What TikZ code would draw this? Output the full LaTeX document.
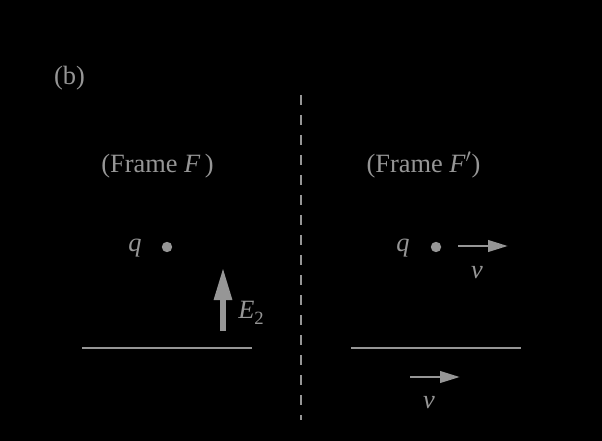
\documentclass[tikz,border=0pt]{standalone}
\usepackage{fontspec}
\setmainfont{Liberation Serif}
\usetikzlibrary{arrows.meta}
\definecolor{fg}{RGB}{150,150,150}
\begin{document}
\begin{tikzpicture}[x=0.75pt,y=-0.75pt,
  lbl/.style={text=fg,font=\fontsize{19.8pt}{21pt}\selectfont,inner sep=0pt,anchor=base},
  plate/.style={draw=fg,line width=2.2pt},
  vec/.style={draw=fg,line width=2.2pt,-{Triangle[length=15pt,width=8.5pt]}},
  bigvec/.style={draw=fg,line width=3.8pt,-{Triangle[length=24pt,width=13pt]}},
  dot/.style={circle,fill=fg,inner sep=0pt,minimum size=7.8pt}]
\fill[black] (0,0) rectangle (602,441);
\useasboundingbox (0,0) rectangle (602,441);
% dashed divider
\coordinate (dtop) at (301,95);
\coordinate (dbot) at (301,420);
\draw[fg,line width=1.6pt,dash pattern=on 7.5pt off 7.5pt] (dtop) -- (dbot);
% labels
\node[lbl] (b) at (69.5,85) {(b)};
\node[lbl] (fF) at (157.5,173) {(Frame \textit{F}\,)};
\node[lbl] (fFp) at (423.5,173) {(Frame \textit{F}$'$)};
% left frame
\coordinate (pl1) at (82,348);
\coordinate (pl2) at (252,348);
\draw[plate] (pl1) -- (pl2);
\node[dot] (q1) at (167,247) {};
\node[lbl] (q1l) at (135,252) {\textit{q}};
\coordinate (e1) at (223,331);
\coordinate (e2) at (223,268);
\draw[bigvec] (e1) -- (e2);
\node[lbl,anchor=base west] (E2) at (238,318) {\textit{E}\raisebox{-4.5pt}{\fontsize{14pt}{15pt}\selectfont 2}};
% right frame
\coordinate (pr1) at (351,348);
\coordinate (pr2) at (521,348);
\draw[plate] (pr1) -- (pr2);
\node[dot] (q2) at (436,247) {};
\node[lbl] (q2l) at (403,252) {\textit{q}};
\coordinate (v1a) at (458,246);
\coordinate (v1b) at (508,246);
\draw[vec] (v1a) -- (v1b);
\node[lbl] (v1) at (477,278) {\textit{v}};
\coordinate (v2a) at (410,377);
\coordinate (v2b) at (460,377);
\draw[vec] (v2a) -- (v2b);
\node[lbl] (v2) at (429,408) {\textit{v}};
\end{tikzpicture}
\end{document}
